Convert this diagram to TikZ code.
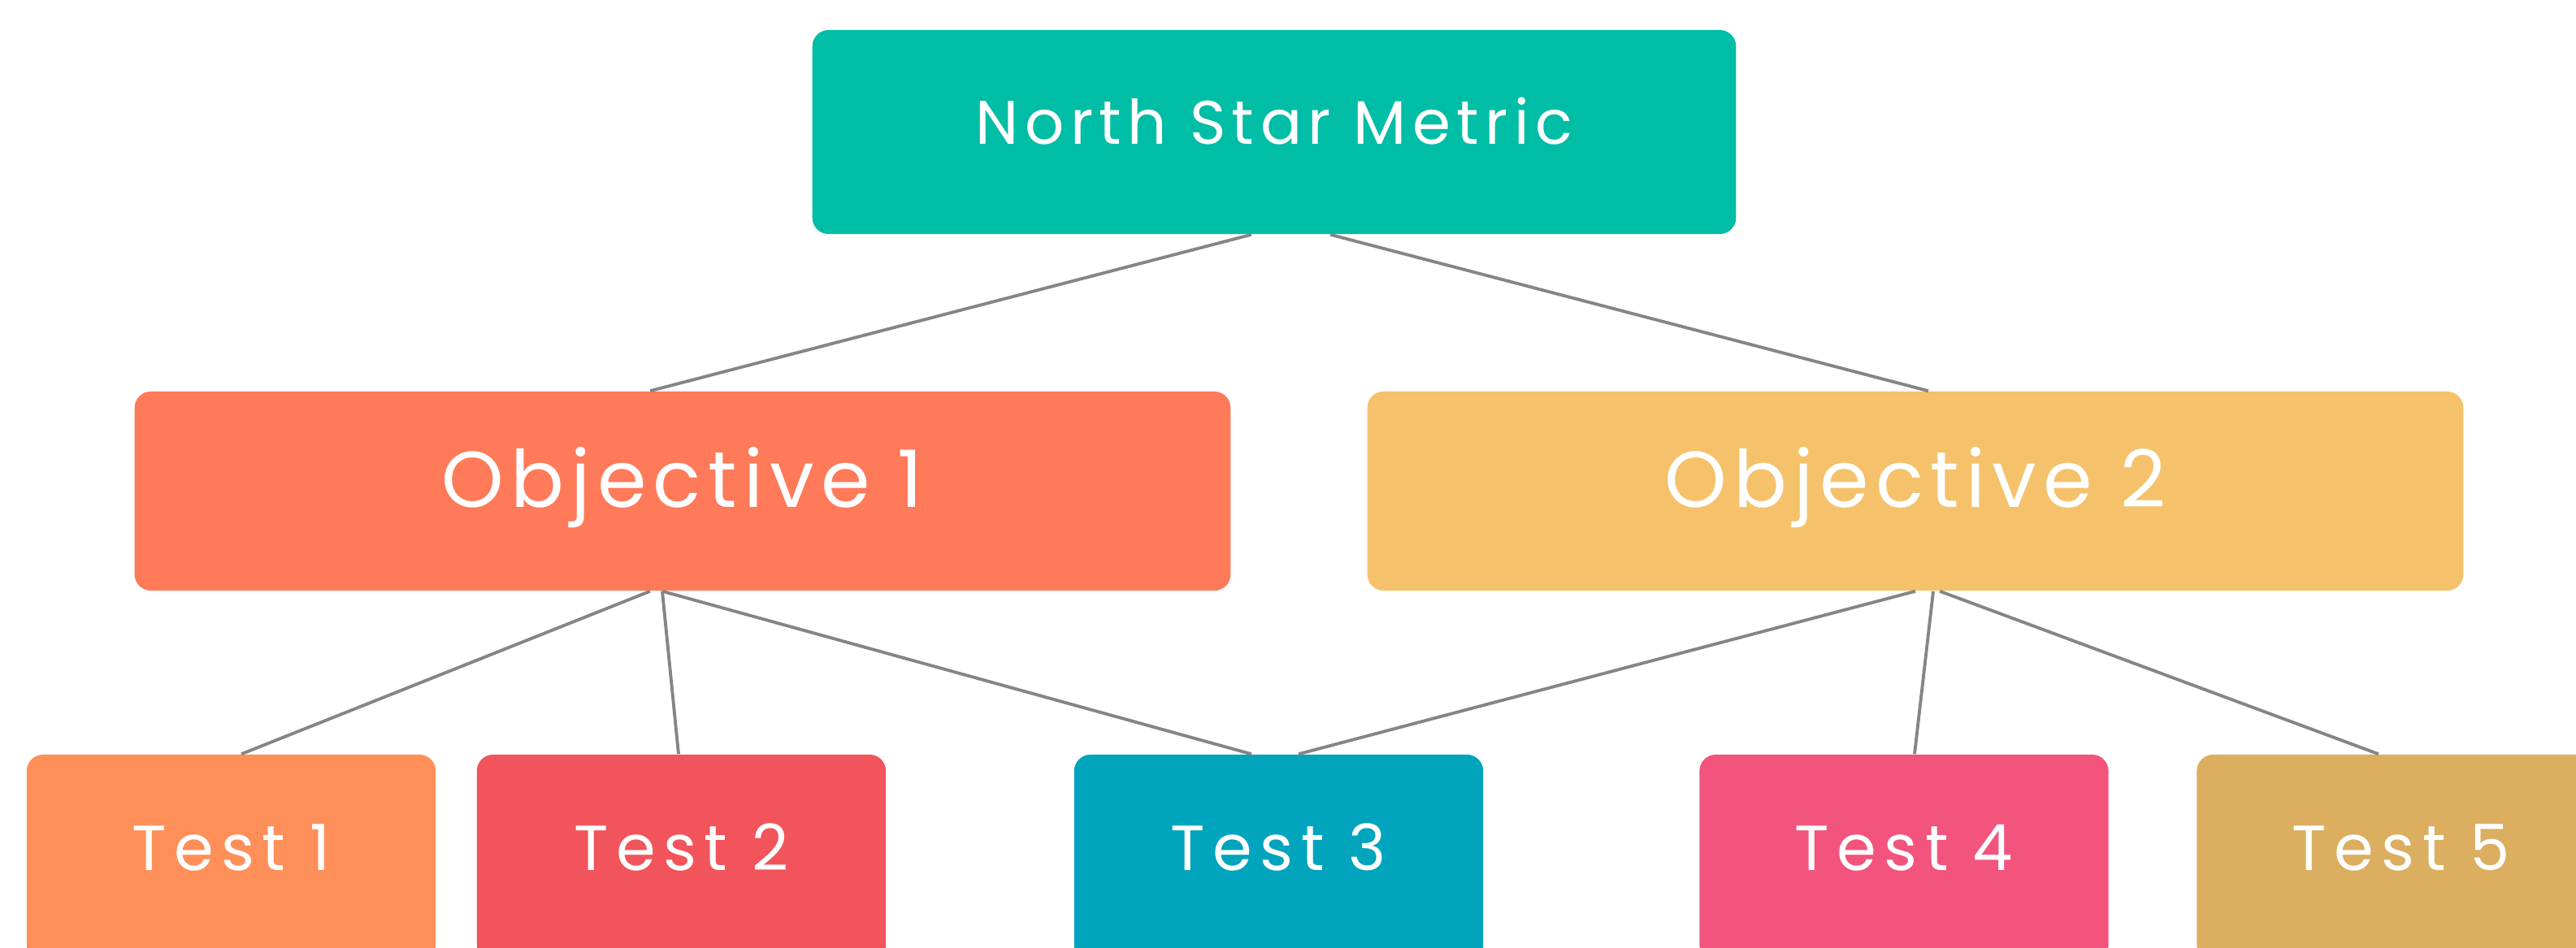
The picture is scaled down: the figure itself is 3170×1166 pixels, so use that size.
\documentclass[tikz,border=0pt]{standalone}
\usepackage{fontspec}
\setmainfont{Poppins}
\definecolor{nsmcol}{HTML}{00BDA5}
\definecolor{objA}{HTML}{FF7A59}
\definecolor{objB}{HTML}{F5C26B}
\definecolor{testA}{HTML}{FF8F59}
\definecolor{testB}{HTML}{F2545B}
\definecolor{testC}{HTML}{00A4BD}
\definecolor{testD}{HTML}{F2547D}
\definecolor{testE}{HTML}{DBAE60}
\definecolor{linkcol}{HTML}{858585}

\begin{document}
\begin{tikzpicture}[x=0.01cm,y=-0.01cm,
  box/.style={rectangle,rounded corners=0.2cm,inner sep=0pt,text=white},
  nsmbox/.style={box,minimum width=11.36cm,minimum height=2.51cm,
    text height=15pt,text depth=6.5pt,
    font=\fontsize{21.5}{26}\selectfont\addfontfeature{LetterSpace=10}},
  objbox/.style={box,minimum width=13.48cm,minimum height=2.45cm,
    text height=19.4pt,text depth=8.3pt,
    font=\fontsize{27.7}{33}\selectfont\addfontfeature{LetterSpace=8.5}},
  testbox/.style={box,minimum width=5.03cm,minimum height=2.54cm,
    text height=15.6pt,text depth=6.7pt,
    font=\fontsize{22.3}{27}\selectfont\addfontfeature{LetterSpace=12}},
  link/.style={draw=linkcol,line width=1.1pt}]
  \clip (0,0) rectangle (3170,1166);

  \node[nsmbox,fill=nsmcol] (nsm) at (1568,162.5) {North Star Metric};

  \node[objbox,fill=objA] (obj1) at (840,604.5)  {Objective 1};
  \node[objbox,fill=objB] (obj2) at (2357,604.5) {Objective 2};

  \node[testbox,fill=testA] (t1) at (284.5,1056) {Test 1};
  \node[testbox,fill=testB] (t2) at (838.5,1056) {Test 2};
  \node[testbox,fill=testC] (t3) at (1573.5,1056) {Test 3};
  \node[testbox,fill=testD] (t4) at (2343,1056) {Test 4};
  \node[testbox,fill=testE] (t5) at (2955,1056) {Test 5};

  \foreach \from/\a/\to/\b in {nsm/-0.28/obj1/-0.40, nsm/0.69/obj2/0.16,
      obj1/-0.40/t1/0.125, obj1/-0.25/t2/-0.035, obj1/-0.25/t3/-0.335,
      obj2/0/t3/0.245, obj2/0.22/t4/0.13, obj2/0.30/t5/-0.28}
    \draw[link] ([xshift=\a cm]\from.south) -- ([xshift=\b cm]\to.north);

\end{tikzpicture}
\end{document}
